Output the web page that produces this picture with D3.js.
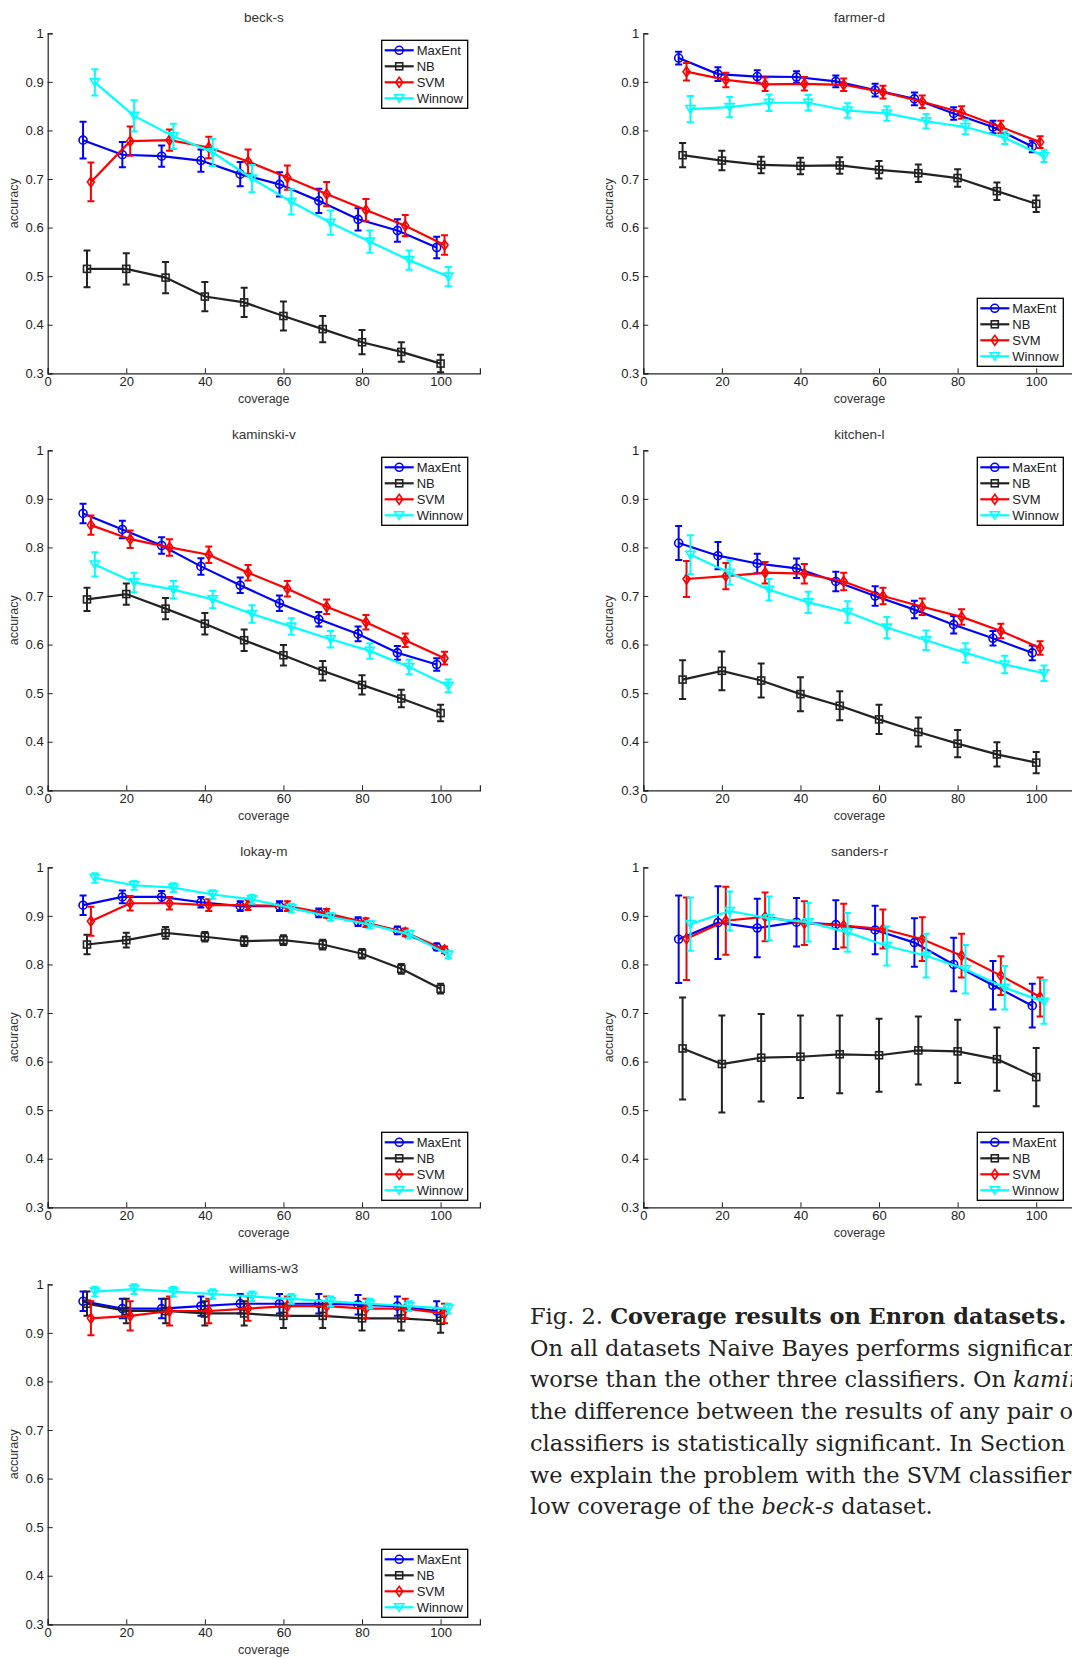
<!DOCTYPE html>
<html><head><meta charset="utf-8">
<script src="https://cdn.jsdelivr.net/npm/d3@7"></script>
<style>body{margin:0;background:#fff;overflow:hidden}svg{display:block}</style>
</head><body>
<script>
const panelNames=["beck-s","farmer-d","kaminski-v","kitchen-l","lokay-m","sanders-r","williams-w3"];
const seriesNames=["MaxEnt","NB","SVM","Winnow"];
const seriesColors=["#0000ff","#222222","#ff0000","#00ffff"];
const coverage=[10,20,30,40,50,60,70,80,90,100];
const xTicks=[0,20,40,60,80,100];
const yTicks=[0.3,0.4,0.5,0.6,0.7,0.8,0.9,1];
const legendPos=["top","bottom","top","top","bottom","bottom","bottom"];
// values[panel][series]
const values=[
 [[.78,.75,.747,.738,.71,.689,.655,.617,.594,.559],
  [.515,.515,.497,.458,.446,.418,.391,.364,.344,.32],
  [.694,.778,.78,.765,.736,.703,.669,.636,.604,.564],
  [.899,.83,.788,.755,.701,.653,.61,.571,.533,.499]],
 [[.949,.916,.911,.91,.901,.883,.865,.835,.807,.767],
  [.749,.738,.729,.727,.728,.719,.712,.702,.675,.649],
  [.921,.904,.895,.896,.894,.879,.859,.837,.807,.776],
  [.844,.848,.857,.857,.841,.835,.819,.807,.785,.747]],
 [[.87,.837,.804,.761,.722,.685,.652,.622,.583,.559],
  [.693,.704,.674,.643,.609,.578,.546,.517,.489,.459],
  [.846,.817,.8,.785,.748,.715,.678,.646,.609,.572],
  [.765,.728,.713,.693,.663,.637,.611,.587,.554,.515]],
 [[.809,.783,.767,.757,.73,.70,.672,.641,.613,.583],
  [.528,.546,.526,.498,.474,.446,.42,.396,.374,.357],
  [.735,.741,.748,.746,.73,.70,.678,.657,.628,.593],
  [.785,.748,.713,.687,.667,.635,.609,.583,.559,.541]],
 [[.922,.939,.939,.928,.92,.92,.906,.888,.87,.836],
  [.841,.85,.865,.857,.848,.85,.841,.822,.791,.75],
  [.889,.926,.926,.922,.922,.92,.905,.886,.866,.83],
  [.978,.963,.958,.944,.934,.916,.898,.882,.862,.82]],
 [[.852,.886,.875,.887,.882,.871,.845,.80,.757,.715],
  [.627,.595,.608,.61,.615,.613,.623,.621,.605,.568],
  [.853,.89,.898,.885,.88,.873,.852,.818,.777,.733],
  [.883,.91,.895,.887,.866,.838,.818,.79,.752,.723]],
 [[.965,.95,.95,.955,.96,.96,.96,.958,.955,.945],
  [.96,.945,.945,.94,.94,.935,.935,.93,.93,.925],
  [.93,.935,.945,.945,.95,.955,.955,.95,.95,.94],
  [.985,.99,.985,.98,.975,.97,.965,.96,.955,.95]]
];
const errors=[
 [[.038,.026,.022,.023,.025,.025,.025,.023,.023,.022],
  [.038,.032,.032,.03,.03,.03,.027,.025,.02,.018],
  [.04,.03,.022,.022,.025,.025,.025,.023,.022,.02],
  [.027,.032,.026,.028,.028,.026,.025,.023,.02,.02]],
 [[.013,.014,.013,.012,.012,.013,.013,.013,.013,.012],
  [.025,.02,.017,.017,.017,.018,.018,.018,.018,.017],
  [.018,.015,.014,.014,.013,.013,.013,.013,.013,.012],
  [.027,.021,.017,.016,.015,.015,.015,.015,.013,.012]],
 [[.02,.018,.017,.017,.016,.016,.015,.015,.014,.013],
  [.024,.022,.022,.022,.022,.021,.02,.02,.018,.017],
  [.02,.018,.017,.017,.016,.016,.015,.015,.014,.013],
  [.025,.02,.018,.018,.018,.017,.017,.016,.015,.013]],
 [[.035,.028,.02,.02,.02,.02,.018,.018,.015,.015],
  [.04,.04,.035,.035,.03,.03,.03,.028,.025,.022],
  [.037,.027,.022,.02,.018,.017,.017,.016,.015,.014],
  [.04,.025,.022,.022,.022,.022,.02,.02,.018,.016]],
 [[.02,.013,.012,.011,.01,.01,.009,.009,.008,.007],
  [.02,.015,.012,.01,.01,.01,.01,.01,.01,.01],
  [.03,.015,.013,.012,.01,.01,.009,.009,.008,.007],
  [.01,.009,.009,.009,.009,.009,.008,.008,.008,.007]],
 [[.09,.075,.06,.05,.05,.05,.05,.055,.05,.045],
  [.105,.10,.09,.085,.08,.075,.07,.065,.065,.06],
  [.085,.07,.05,.045,.045,.04,.045,.045,.04,.04],
  [.055,.04,.045,.04,.04,.04,.045,.05,.045,.045]],
 [[.02,.02,.02,.02,.02,.02,.02,.02,.02,.02],
  [.025,.025,.025,.025,.025,.025,.025,.025,.025,.025],
  [.035,.03,.03,.025,.025,.02,.02,.02,.02,.02],
  [.01,.01,.01,.01,.01,.01,.01,.01,.01,.01]]
];
const xOffsets=[-1,0,1,2];
const captionLines=[
 [["Fig. 2. ",""],["Coverage results on Enron datasets.","b"]],
 [["On all datasets Naive Bayes performs significantly",""]],
 [["worse than the other three classifiers. On ",""],["kaminski-v","i"]],
 [["the difference between the results of any pair of",""]],
 [["classifiers is statistically significant. In Section 5",""]],
 [["we explain the problem with the SVM classifier at",""]],
 [["low coverage of the ",""],["beck-s","i"],[" dataset.",""]]
];

const W=1072,H=1659;
const svg=d3.select("body").append("svg").attr("width",W).attr("height",H);
const font="'Liberation Sans',Arial,sans-serif";
const colX=[47.7,643.3], rowY=[33.3,450.3,867.3,1284.3];
const pw=392.9*1.1, ph=340;
const x=d3.scaleLinear().domain([0,110]).range([0,pw]);
const y=d3.scaleLinear().domain([0.3,1]).range([ph,0]);

function marker(g,k,cx,cy,col){
  if(k===0) g.append("circle").attr("cx",cx).attr("cy",cy).attr("r",4).attr("fill","none").attr("stroke",col).attr("stroke-width",1.6);
  else if(k===1) g.append("rect").attr("x",cx-3.5).attr("y",cy-3.5).attr("width",7).attr("height",7).attr("fill","none").attr("stroke",col).attr("stroke-width",1.6);
  else if(k===2) g.append("path").attr("d",`M${cx},${cy-5}L${cx+3.5},${cy}L${cx},${cy+5}L${cx-3.5},${cy}Z`).attr("fill","none").attr("stroke",col).attr("stroke-width",1.6);
  else g.append("path").attr("d",`M${cx-4.5},${cy-3.5}L${cx+4.5},${cy-3.5}L${cx},${cy+4}Z`).attr("fill","none").attr("stroke",col).attr("stroke-width",1.6);
}

panelNames.forEach((name,p)=>{
  const g=svg.append("g").attr("transform",`translate(${colX[p%2]},${rowY[Math.floor(p/2)]})`);
  g.append("text").attr("x",x(55)).attr("y",-11).attr("text-anchor","middle").attr("font-family",font).attr("font-size",13.5).attr("fill","#333").text(name);
  const xa=g.append("g").attr("transform",`translate(0,${ph})`).call(d3.axisBottom(x).tickValues(xTicks).tickSize(-5).tickPadding(3).tickFormat(d3.format("d")));
  const ya=g.append("g").call(d3.axisLeft(y).tickValues(yTicks).tickSize(-5).tickPadding(4).tickFormat(d=>d===1?"1":d3.format(".1f")(d)));
  [xa,ya].forEach(a=>{a.select(".domain").attr("stroke","#222").attr("stroke-width",1.2);a.selectAll("line").attr("stroke","#222");a.selectAll("text").attr("font-family",font).attr("font-size",13).attr("fill","#222");});
  g.append("text").attr("x",x(55)).attr("y",ph+30).attr("text-anchor","middle").attr("font-family",font).attr("font-size",12.5).attr("fill","#333").text("coverage");
  g.append("text").attr("transform",`translate(-30,${ph/2}) rotate(-90)`).attr("text-anchor","middle").attr("font-family",font).attr("font-size",12.5).attr("fill","#333").text("accuracy");
  seriesNames.forEach((s,k)=>{
    const col=seriesColors[k];
    const pts=coverage.map((c,i)=>[x(c+xOffsets[k]),y(values[p][k][i]),errors[p][k][i],values[p][k][i]]);
    const sg=g.append("g");
    sg.append("path").attr("d",d3.line()(pts.map(d=>[d[0],d[1]]))).attr("fill","none").attr("stroke",col).attr("stroke-width",2.2);
    pts.forEach(d=>{
      const y1=y(d[3]+d[2]),y2=y(d[3]-d[2]);
      sg.append("path").attr("d",`M${d[0]},${y1}V${y2}M${d[0]-3.5},${y1}H${d[0]+3.5}M${d[0]-3.5},${y2}H${d[0]+3.5}`).attr("stroke",col).attr("stroke-width",2).attr("fill","none");
      marker(sg,k,d[0],d[1],col);
    });
  });
  const lx=334, ly=legendPos[p]==="top"?7:265;
  const lg=g.append("g").attr("transform",`translate(${lx},${ly})`);
  lg.append("rect").attr("width",86).attr("height",68).attr("fill","#fff").attr("stroke","#000").attr("stroke-width",1.3);
  seriesNames.forEach((s,k)=>{
    const yy=10+k*16;
    lg.append("line").attr("x1",3).attr("x2",32).attr("y1",yy).attr("y2",yy).attr("stroke",seriesColors[k]).attr("stroke-width",2.2);
    marker(lg,k,17.5,yy,seriesColors[k]);
    lg.append("text").attr("x",35).attr("y",yy+4.5).attr("font-family",font).attr("font-size",13).attr("fill","#222").text(s);
  });
});

const cap=svg.append("text").attr("font-family","'DejaVu Serif','Liberation Serif',serif").attr("font-size",22.5).attr("fill","#222");
captionLines.forEach((ln,i)=>{
  const t=cap.append("tspan").attr("x",530).attr("y",1324+i*31.7);
  ln.forEach(([s,st],j)=>{
    const ts=j===0?t:cap.append("tspan");
    ts.text(s);
    if(st==="b") ts.attr("font-weight","bold");
    if(st==="i") ts.attr("font-style","italic");
  });
});
</script>
</body></html>
